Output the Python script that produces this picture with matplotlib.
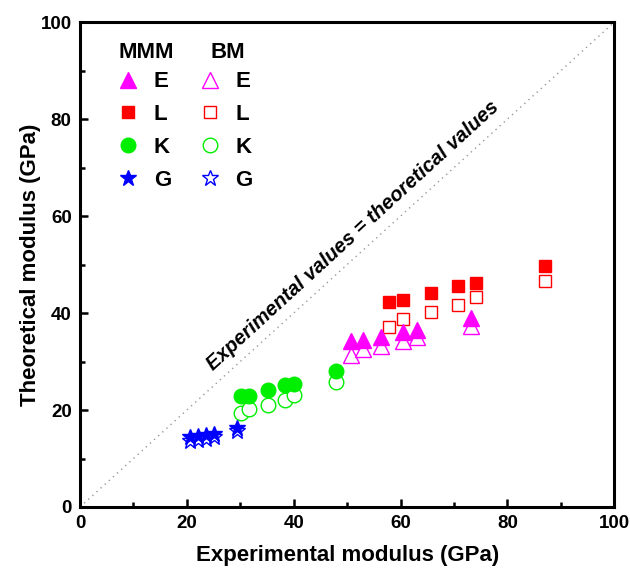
import matplotlib.pyplot as plt
from matplotlib.ticker import MultipleLocator
import numpy as np

plt.rcParams['font.family'] = ['Liberation Sans', 'DejaVu Sans']
plt.rcParams['font.weight'] = 'bold'

# E (MMM / BM)
e_exp = [50.7, 53.0, 56.4, 60.5, 63.1, 73.2]
e_mmm = [34.2, 34.4, 35.1, 36.1, 36.5, 39.0]
e_bm = [31.3, 32.6, 33.3, 34.2, 35.1, 37.3]
# L
l_exp = [57.9, 60.5, 65.7, 70.8, 74.2, 87.1]
l_mmm = [42.3, 42.7, 44.1, 45.6, 46.2, 49.7]
l_bm = [37.1, 38.8, 40.2, 41.6, 43.3, 46.6]
# K
k_exp = [30.1, 31.6, 35.2, 38.4, 40.1, 47.9]
k_mmm = [22.9, 22.9, 24.1, 25.2, 25.3, 28.0]
k_bm = [19.3, 20.2, 21.0, 22.1, 23.1, 25.7]
# G
g_exp = [20.6, 22.1, 23.6, 25.1, 29.4]
g_mmm = [14.5, 14.7, 14.9, 15.1, 16.3]
g_bm = [13.6, 13.8, 14.1, 14.4, 15.7]

labels = ['E', 'L', 'K', 'G']
colors = ['#FF00FF', '#FF0000', '#00EE00', '#0000FF']
markers = ['^', 's', 'o', '*']
sizes = [11, 9, 10.5, 12]

fig = plt.figure(figsize=(6.3, 5.69), dpi=100)
ax = fig.add_axes([0.127, 0.109, 0.848, 0.852])

ax.plot([0, 100], [0, 100], ls=(0, (1, 3)), color='#999999', lw=1, zorder=1)

data = [(e_exp, e_mmm, e_bm), (l_exp, l_mmm, l_bm), (k_exp, k_mmm, k_bm), (g_exp, g_mmm, g_bm)]
h_mmm, h_bm = [], []
for (x, ym, yb), lab, c, m, s in zip(data, labels, colors, markers, sizes):
    hm, = ax.plot(x, ym, ls='none', marker=m, ms=s, color=c, mec=c, label=lab, zorder=3)
    hb, = ax.plot(x, yb, ls='none', marker=m, ms=s, mfc='white', mec=c, mew=1.0, label=lab, zorder=2)
    h_mmm.append(hm)
    h_bm.append(hb)

leg = ax.legend(h_mmm + h_bm, labels + labels, ncol=2, frameon=False,
                loc='upper left', bbox_to_anchor=(0.03, 0.94), fontsize=16,
                handletextpad=0.6, columnspacing=1.2, labelspacing=0.53,
                handlelength=1.1)
ax.text(0.072, 0.96, 'MMM', transform=ax.transAxes, fontsize=16, fontweight='bold', va='top')
ax.text(0.245, 0.96, 'BM', transform=ax.transAxes, fontsize=16, fontweight='bold', va='top')

ax.text(51, 56, 'Experimental values = theoretical values', rotation=42.5,
        rotation_mode='anchor', ha='center', va='center', fontsize=14.5,
        fontweight='bold', style='italic')

ax.set_xlim(0, 100)
ax.set_ylim(0, 100)
ax.xaxis.set_major_locator(MultipleLocator(20))
ax.xaxis.set_minor_locator(MultipleLocator(10))
ax.yaxis.set_major_locator(MultipleLocator(20))
ax.yaxis.set_minor_locator(MultipleLocator(10))
ax.tick_params(which='both', direction='in', width=1.8, labelsize=13.5, top=False, right=False)
ax.tick_params(which='major', length=6, pad=6)
ax.tick_params(which='minor', length=3.5)
for sp in ax.spines.values():
    sp.set_linewidth(2.2)

ax.set_xlabel('Experimental modulus (GPa)', fontsize=16, fontweight='bold', labelpad=9)
ax.set_ylabel('Theoretical modulus (GPa)', fontsize=16, fontweight='bold', labelpad=0)

fig.savefig('out.png', dpi=100)
